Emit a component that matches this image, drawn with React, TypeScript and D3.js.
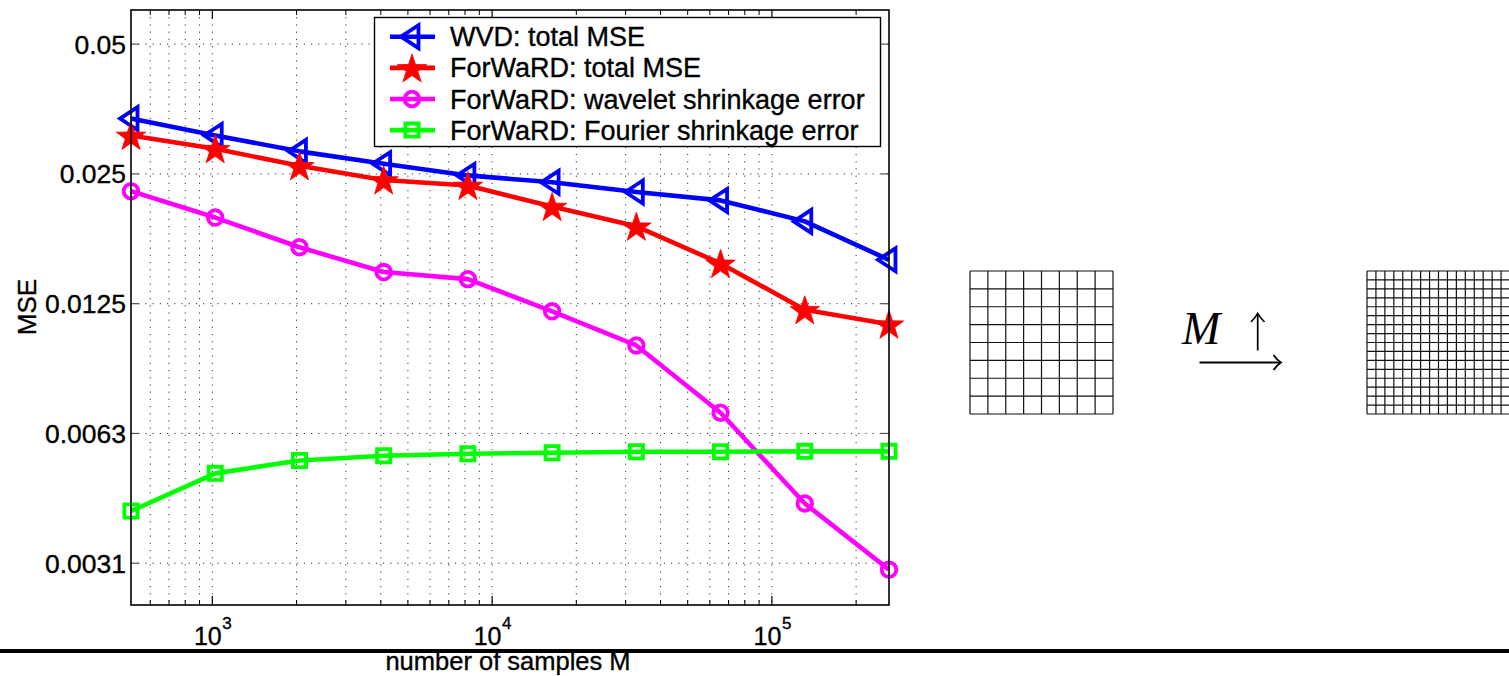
import React from "react";
import * as d3 from "d3";

const samplesM = [512, 1024, 2048, 4096, 8192, 16384, 32768, 65536, 131072, 262144];
const wvdTotalMSE = [0.0336, 0.0307, 0.0282, 0.0264, 0.0248, 0.0239, 0.0227, 0.0217, 0.0194, 0.0158];
const forwardTotalMSE = [0.0307, 0.0286, 0.0261, 0.0242, 0.0235, 0.021, 0.0189, 0.0155, 0.0121, 0.0112];
const forwardWaveletErr = [0.0228, 0.0198, 0.0169, 0.0148, 0.01425, 0.012, 0.01, 0.00698, 0.0043, 0.00302];
const forwardFourierErr = [0.00413, 0.00505, 0.00541, 0.00555, 0.00561, 0.00564, 0.00567, 0.00567, 0.00568, 0.00568];
const seriesNames = [
  "WVD: total MSE",
  "ForWaRD: total MSE",
  "ForWaRD: wavelet shrinkage error",
  "ForWaRD: Fourier shrinkage error",
];
const seriesColors = ["#0000ff", "#ff0000", "#ff00ff", "#00ff00"];
const seriesMarkers = ["triangle", "star", "circle", "square"];
const yTickValues = [0.05, 0.025, 0.0125, 0.00625, 0.003125];
const yTickLabels = ["0.05", "0.025", "0.0125", "0.0063", "0.0031"];
const xTickValues = [1e3, 1e4, 1e5];
const xTickExponents = ["3", "4", "5"];
const yAxisLabel = "MSE";
const xAxisLabel = "number of samples M";

function markerPath(kind: string, cx: number, cy: number): string {
  if (kind === "triangle") {
    return `M${cx - 11},${cy} L${cx + 6.5},${cy - 11.5} L${cx + 6.5},${cy + 11.5} Z`;
  }
  if (kind === "star") {
    const R = 15.5;
    const r = R * 0.39;
    const pts: string[] = [];
    for (let i = 0; i < 10; i++) {
      const a = -Math.PI / 2 + (i * Math.PI) / 5;
      const rad = i % 2 === 0 ? R : r;
      pts.push(`${cx + rad * Math.cos(a)},${cy + rad * Math.sin(a) + 1.5}`);
    }
    return "M" + pts.join("L") + "Z";
  }
  if (kind === "square") {
    const s = 6.6;
    return `M${cx - s},${cy - s}H${cx + s}V${cy + s}H${cx - s}Z`;
  }
  const r = 7.3;
  return `M${cx - r},${cy}A${r},${r} 0 1,0 ${cx + r},${cy}A${r},${r} 0 1,0 ${cx - r},${cy}Z`;
}

function Marker({ kind, cx, cy, color }: { kind: string; cx: number; cy: number; color: string }) {
  const filled = kind === "star";
  return (
    <path
      d={markerPath(kind, cx, cy)}
      fill={filled ? color : "none"}
      stroke={color}
      strokeWidth={filled ? 0.8 : 3.8}
      strokeLinejoin="miter"
    />
  );
}

export default function App() {
  const W = 1509;
  const H = 676;
  const L = 131;
  const R = 889;
  const T = 10;
  const B = 605;
  const x = d3.scaleLog().domain([512, 262144]).range([L, R]);
  const y = d3.scaleLog().domain([0.0025, 0.06]).range([B, T]);
  const allX = x.ticks();
  const majorSet = new Set(xTickValues);
  const minorX = allX.filter((v) => !majorSet.has(v));
  const series = [wvdTotalMSE, forwardTotalMSE, forwardWaveletErr, forwardFourierErr];
  const line = d3
    .line<number>()
    .x((_, i) => x(samplesM[i]))
    .y((d) => y(d));

  const font = "'Liberation Sans', Arial, Helvetica, sans-serif";
  const gridColor = "#333";
  const dash = "1.2 6";
  const txtStroke = { stroke: "#000", strokeWidth: 0.35 };

  // right-side grids
  const g1 = { x: 970, y: 271, size: 143, n: 8 };
  const g2 = { x: 1367, y: 271, size: 143, n: 16 };
  const gridLines = (g: { x: number; y: number; size: number; n: number }) => {
    const out: JSX.Element[] = [];
    for (let i = 0; i <= g.n; i++) {
      const p = (g.size * i) / g.n;
      out.push(
        <line key={`v${i}`} x1={g.x + p} x2={g.x + p} y1={g.y} y2={g.y + g.size} stroke="#111" strokeWidth={1.2} />
      );
      out.push(
        <line key={`h${i}`} x1={g.x} x2={g.x + g.size} y1={g.y + p} y2={g.y + p} stroke="#111" strokeWidth={1.2} />
      );
    }
    return out;
  };

  const legendRows = [36.7, 67.9, 99.0, 130.1];

  return (
    <svg
      width={W}
      height={H}
      style={{ position: "absolute", left: 0, top: 0, background: "#fff" }}
      xmlns="http://www.w3.org/2000/svg"
    >
      <rect x={0} y={0} width={W} height={H} fill="#fff" />
      {/* grid */}
      {allX.map((v, i) => (
        <line key={`gx${i}`} x1={x(v)} x2={x(v)} y1={T} y2={B} stroke={gridColor} strokeWidth={1} strokeDasharray={dash} />
      ))}
      {yTickValues.map((v, i) => (
        <line key={`gy${i}`} x1={L} x2={R} y1={y(v)} y2={y(v)} stroke={gridColor} strokeWidth={1} strokeDasharray={dash} />
      ))}
      {/* ticks */}
      {yTickValues.map((v, i) => (
        <g key={`ty${i}`}>
          <line x1={L} x2={L + 8} y1={y(v)} y2={y(v)} stroke="#555" strokeWidth={1.2} />
          <line x1={R - 8} x2={R} y1={y(v)} y2={y(v)} stroke="#555" strokeWidth={1.2} />
        </g>
      ))}
      {xTickValues.map((v, i) => (
        <g key={`tx${i}`}>
          <line x1={x(v)} x2={x(v)} y1={B} y2={B - 9} stroke="#000" strokeWidth={1.2} />
          <line x1={x(v)} x2={x(v)} y1={T} y2={T + 9} stroke="#000" strokeWidth={1.2} />
        </g>
      ))}
      {minorX.map((v, i) => (
        <g key={`tmx${i}`}>
          <line x1={x(v)} x2={x(v)} y1={B} y2={B - 5} stroke="#000" strokeWidth={1} />
          <line x1={x(v)} x2={x(v)} y1={T} y2={T + 5} stroke="#000" strokeWidth={1} />
        </g>
      ))}
      {/* series */}
      {series.map((s, si) => (
        <g key={`s${si}`}>
          <path d={line(s) || ""} fill="none" stroke={seriesColors[si]} strokeWidth={4.6} strokeLinejoin="round" />
          {s.map((v, i) => (
            <Marker key={i} kind={seriesMarkers[si]} cx={x(samplesM[i])} cy={y(v)} color={seriesColors[si]} />
          ))}
        </g>
      ))}
      {/* axes box */}
      <rect x={L} y={T} width={R - L} height={B - T} fill="none" stroke="#000" strokeWidth={1.6} />
      {/* y tick labels */}
      {yTickValues.map((v, i) => (
        <text
          key={`yl${i}`}
          x={126}
          y={y(v) + 9.5}
          textAnchor="end"
          fontFamily={font}
          fontSize={26.5}
          fill="#000"
          {...txtStroke}
        >
          {yTickLabels[i]}
        </text>
      ))}
      {/* x tick labels */}
      {xTickValues.map((v, i) => (
        <g key={`xl${i}`}>
          <text
            x={x(v) - 4.5}
            y={645}
            textAnchor="middle"
            fontFamily={font}
            fontSize={25}
            fill="#000"
            {...txtStroke}
          >
            10
          </text>
          <text x={x(v) + 10} y={629} fontFamily={font} fontSize={17} fill="#000" {...txtStroke}>
            {xTickExponents[i]}
          </text>
        </g>
      ))}
      {/* axis labels */}
      <text
        transform={`translate(36,307) rotate(-90)`}
        textAnchor="middle"
        fontFamily={font}
        fontSize={26}
        fill="#000"
        {...txtStroke}
      >
        {yAxisLabel}
      </text>
      <text
        x={508}
        y={670}
        textAnchor="middle"
        fontFamily={font}
        fontSize={25.5}
        fill="#000"
        {...txtStroke}
      >
        {xAxisLabel}
      </text>
      {/* legend */}
      <rect x={374.5} y={17.5} width={506} height={129} fill="#fff" stroke="#000" strokeWidth={1.4} />
      {seriesNames.map((name, i) => (
        <g key={`lg${i}`}>
          <line x1={390} x2={435} y1={legendRows[i]} y2={legendRows[i]} stroke={seriesColors[i]} strokeWidth={4.6} />
          <Marker kind={seriesMarkers[i]} cx={412} cy={legendRows[i]} color={seriesColors[i]} />
          <text x={450} y={legendRows[i] + 9.5} fontFamily={font} fontSize={27} fill="#000" {...txtStroke}>
            {name}
          </text>
        </g>
      ))}
      {/* thick separator line */}
      <rect x={0} y={649} width={W} height={4} fill="#000" />
      {/* right-side illustration */}
      <g>{gridLines(g1)}</g>
      <g>{gridLines(g2)}</g>
      <text x={1182} y={344} fontFamily="'Liberation Serif', 'DejaVu Serif', serif" fontStyle="italic" fontSize={46} fill="#000">
        M
      </text>
      <line x1={1257.7} x2={1257.7} y1={350.5} y2={314} stroke="#000" strokeWidth={1.7} />
      <path d="M1251,322 Q1255,318 1257.7,313.3 Q1260.5,318 1264.5,322" fill="none" stroke="#000" strokeWidth={1.6} />
      <line x1={1199.5} x2={1280} y1={362.5} y2={362.5} stroke="#000" strokeWidth={2.1} />
      <path d="M1273.5,355 Q1277,360 1281,362.5 Q1277,365 1273.5,370" fill="none" stroke="#000" strokeWidth={1.8} />
    </svg>
  );
}
